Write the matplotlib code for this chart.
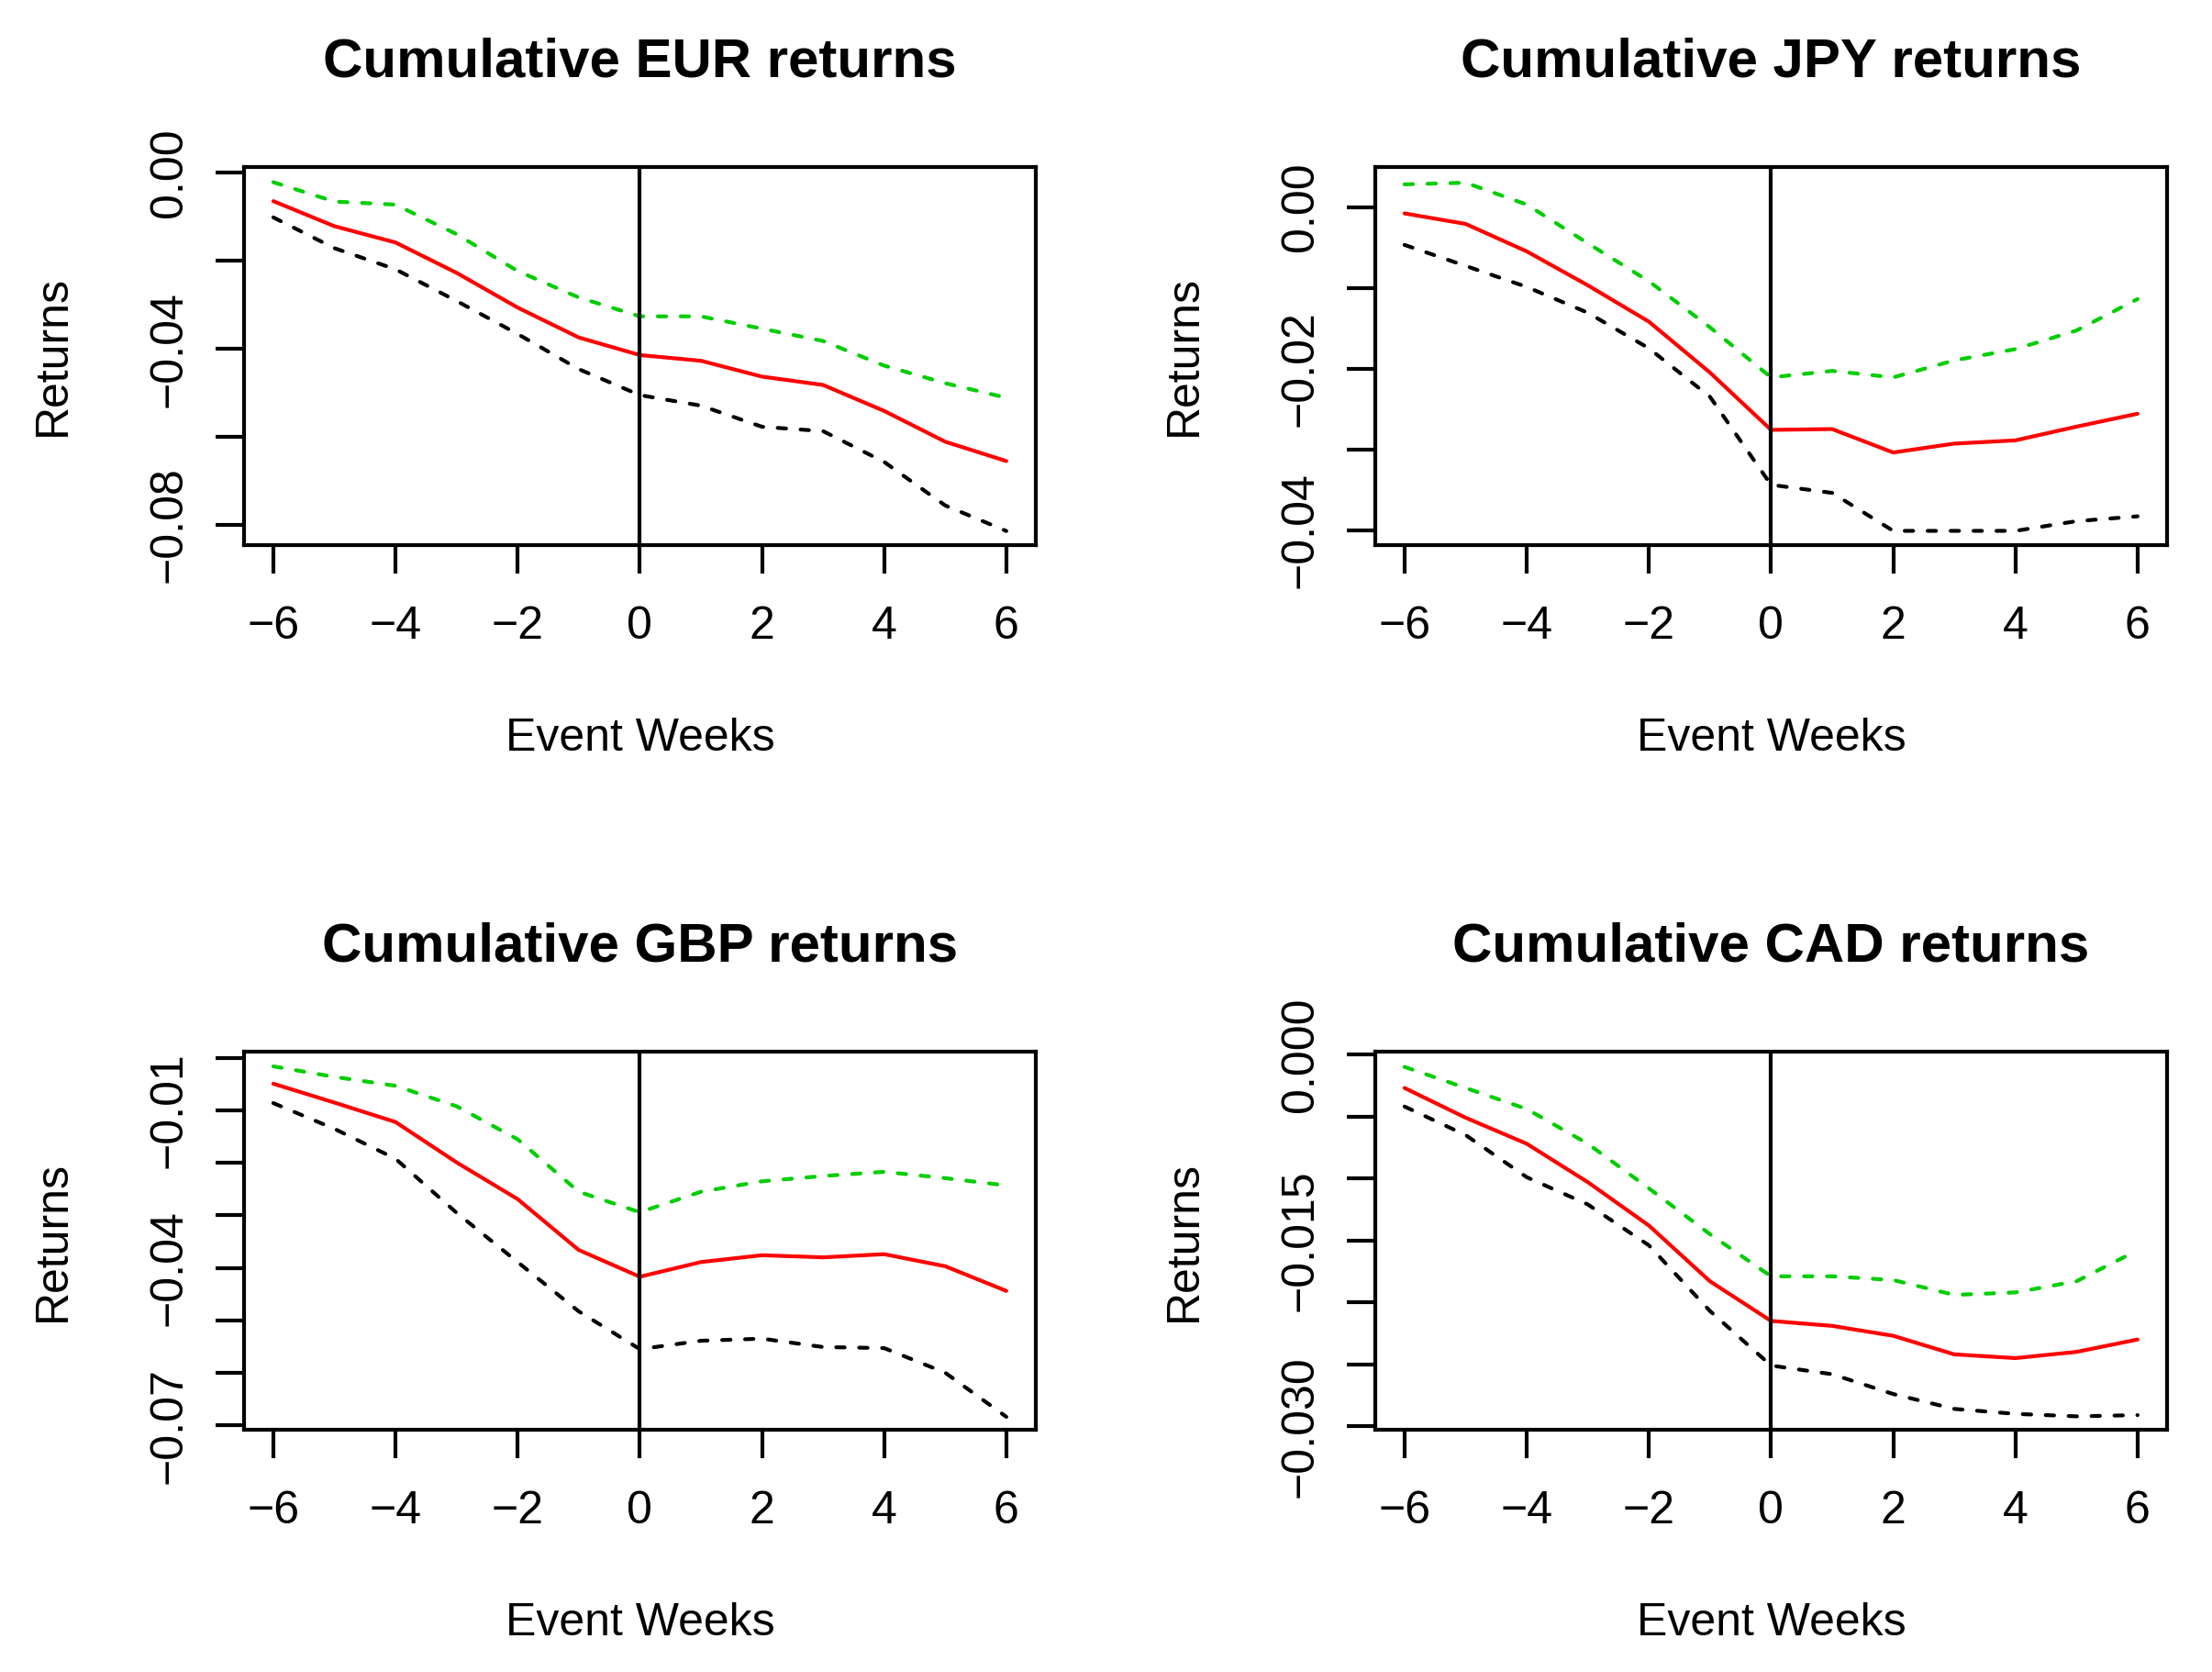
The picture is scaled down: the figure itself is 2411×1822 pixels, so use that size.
import matplotlib
matplotlib.use("Agg")
import matplotlib.pyplot as plt

plt.rcParams["font.family"] = ["Liberation Sans", "DejaVu Sans"]
plt.rcParams["font.size"] = 12

weeks = [-6, -5, -4, -3, -2, -1, 0, 1, 2, 3, 4, 5, 6]

# EUR
eur_mean = [-0.0064, -0.0121, -0.0158, -0.0227, -0.0306, -0.0374, -0.0414,
            -0.0427, -0.0463, -0.0482, -0.0541, -0.0611, -0.0655]
eur_upper = [-0.0021, -0.0065, -0.0072, -0.0139, -0.0223, -0.0283, -0.0326,
             -0.0326, -0.0354, -0.0382, -0.0438, -0.0478, -0.0511]
eur_lower = [-0.0101, -0.0171, -0.0219, -0.0291, -0.0366, -0.0446, -0.0505,
             -0.0529, -0.0577, -0.0587, -0.0657, -0.0756, -0.0814]

# JPY
jpy_mean = [-0.0008, -0.0021, -0.0055, -0.0097, -0.0142, -0.0205, -0.0276,
            -0.0275, -0.0304, -0.0293, -0.0289, -0.0272, -0.0256]
jpy_upper = [0.0028, 0.0030, 0.0003, -0.0045, -0.0092, -0.0149, -0.0211,
             -0.0203, -0.0211, -0.0190, -0.0176, -0.0153, -0.0114]
jpy_lower = [-0.0047, -0.0073, -0.0099, -0.0131, -0.0175, -0.0235, -0.0344,
             -0.0354, -0.0401, -0.0401, -0.0401, -0.0389, -0.0383]

# GBP
gbp_mean = [-0.0049, -0.0085, -0.0122, -0.0199, -0.0269, -0.0366, -0.0417,
            -0.0389, -0.0376, -0.0380, -0.0374, -0.0397, -0.0444]
gbp_upper = [-0.0016, -0.0036, -0.0053, -0.0092, -0.0155, -0.0255, -0.0294,
             -0.0255, -0.0235, -0.0225, -0.0217, -0.0229, -0.0243]
gbp_lower = [-0.0086, -0.0135, -0.0192, -0.0295, -0.0389, -0.0483, -0.0555,
             -0.0539, -0.0535, -0.0551, -0.0553, -0.0600, -0.0684]

# CAD
cad_mean = [-0.0027, -0.0051, -0.0072, -0.0103, -0.0138, -0.0183, -0.0215,
            -0.0219, -0.0227, -0.0242, -0.0245, -0.0240, -0.0230]
cad_upper = [-0.0010, -0.0027, -0.0044, -0.0072, -0.0108, -0.0145, -0.0179,
             -0.0179, -0.0182, -0.0194, -0.0192, -0.0183, -0.0158]
cad_lower = [-0.0042, -0.0065, -0.0099, -0.0121, -0.0154, -0.0207, -0.0251,
             -0.0258, -0.0274, -0.0286, -0.0290, -0.0292, -0.0291]

x_ticks = [-6, -4, -2, 0, 2, 4, 6]
x_labels = ["\u22126", "\u22124", "\u22122", "0", "2", "4", "6"]

panels = [
    ("EUR", eur_mean, eur_upper, eur_lower,
     [0.0, -0.02, -0.04, -0.06, -0.08],
     ["0.00", "", "\u22120.04", "", "\u22120.08"],
     (-0.0846, 0.00135)),
    ("JPY", jpy_mean, jpy_upper, jpy_lower,
     [0.0, -0.01, -0.02, -0.03, -0.04],
     ["0.00", "", "\u22120.02", "", "\u22120.04"],
     (-0.04186, 0.00494)),
    ("GBP", gbp_mean, gbp_upper, gbp_lower,
     [0.0, -0.01, -0.02, -0.03, -0.04, -0.05, -0.06, -0.07],
     ["", "\u22120.01", "", "", "\u22120.04", "", "", "\u22120.07"],
     (-0.07086, 0.0012)),
    ("CAD", cad_mean, cad_upper, cad_lower,
     [0.0, -0.005, -0.010, -0.015, -0.020, -0.025, -0.030],
     ["0.000", "", "", "\u22120.015", "", "", "\u22120.030"],
     (-0.03028, 0.000226)),
]

fig = plt.figure(figsize=(2411 / 300, 1822 / 300), dpi=300)

lefts = [0.1103, 0.6217, 0.1103, 0.6217]
bottoms = [0.674, 0.674, 0.1449, 0.1449]
w, h = 0.3579, 0.2261

for i, (cur, mean, upper, lower, yt, yl, ylim) in enumerate(panels):
    ax = fig.add_axes([lefts[i], bottoms[i], w, h])
    ax.plot(weeks, mean, color="#FF0000", lw=1.0, solid_capstyle="round")
    ax.plot(weeks, upper, color="#00CD00", lw=1.0, linestyle=(0, (2.2, 3.8)),
            dash_capstyle="round")
    ax.plot(weeks, lower, color="black", lw=1.0, linestyle=(0, (2.2, 3.8)),
            dash_capstyle="round")
    ax.axvline(0, color="black", lw=1.0)

    ax.set_xlim(-6.48, 6.48)
    ax.set_ylim(*ylim)
    ax.set_xticks(x_ticks)
    ax.set_xticklabels(x_labels)
    ax.set_yticks(yt)
    ax.set_yticklabels(yl, rotation=90, va="center")
    ax.tick_params(length=7.4, width=1.0, direction="out", labelsize=12)
    ax.tick_params(axis="x", pad=8.5)
    ax.tick_params(axis="y", pad=6.5)
    for s in ax.spines.values():
        s.set_linewidth(1.0)

    ax.text(0.5, 1.238, "Cumulative %s returns" % cur, transform=ax.transAxes,
            ha="center", va="baseline", fontsize=14.4, fontweight="bold")
    ax.text(0.5, -0.512, "Event Weeks", transform=ax.transAxes,
            ha="center", va="center", fontsize=12)
    ax.text(-0.241, 0.5, "Returns", transform=ax.transAxes, rotation=90,
            ha="center", va="center", fontsize=12)

fig.savefig("out.png", dpi=300)
